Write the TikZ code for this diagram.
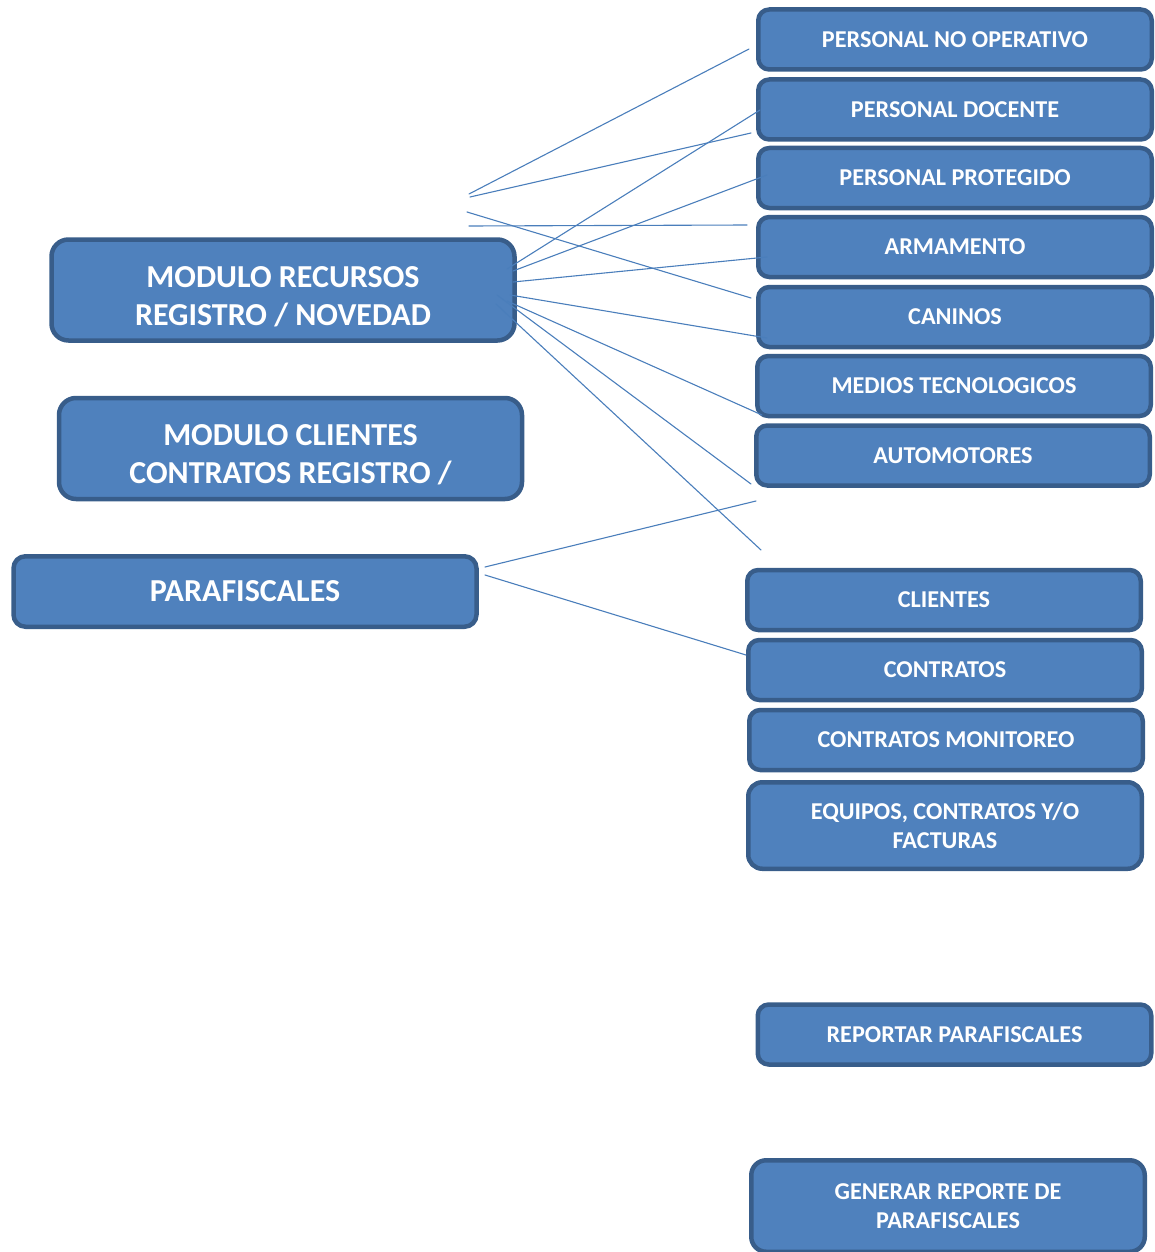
\documentclass[tikz,border=0pt]{standalone}
\usepackage{fontspec}
\setmainfont{Carlito}
\usetikzlibrary{positioning}
\definecolor{boxfill}{HTML}{4F81BD}
\definecolor{boxline}{HTML}{385D8A}
\definecolor{linkblue}{HTML}{4A7EBB}
\tikzset{
  box/.style={draw=boxline, fill=boxfill, line width=4.5pt, rounded corners=11pt,
    text=white, align=center, inner sep=0pt, minimum width=393.5pt, minimum height=60pt,
    font=\fontsize{24.2}{29}\selectfont\bfseries},
  bigbox/.style={box, rounded corners=17pt, minimum width=463pt, minimum height=101pt,
    font=\fontsize{32}{38}\selectfont\bfseries},
  bigtext/.style={text=white, align=center, inner sep=0pt, yshift=-6.5pt,
    font=\fontsize{32}{38}\selectfont\bfseries},
  link/.style={draw=linkblue, line width=1.1pt}
}
\begin{document}
\begin{tikzpicture}[x=1pt, y=-1pt, line join=round, line cap=round]
      \clip (0,0) rectangle (1155,1252);
      % left modules
      \node[bigbox, label={[bigtext]center:{MODULO RECURSOS\\REGISTRO / NOVEDAD}}] (recursos) at (283,290) {};
      \node[bigbox, label={[bigtext]center:{MODULO CLIENTES\\CONTRATOS REGISTRO /}}] (clientes) at (290.5,448.5) {};
      \node[bigbox, rounded corners=12pt, minimum height=70.5pt] (parafis) at (245,591.5) {PARAFISCALES};
      % right column
      \node[box] (pno)   at (955,39.5)  {PERSONAL NO OPERATIVO};
      \node[box] (pdoc)  at (955,109.5) {PERSONAL DOCENTE};
      \node[box] (pprot) at (955,178)   {PERSONAL PROTEGIDO};
      \node[box] (arm)   at (955,247)   {ARMAMENTO};
      \node[box] (can)   at (955,317)   {CANINOS};
      \node[box] (med)   at (954,386)   {MEDIOS TECNOLOGICOS};
      \node[box] (auto)  at (953,455.5) {AUTOMOTORES};
      \node[box] (cli)   at (944,600)   {CLIENTES};
      \node[box] (con)   at (945,670)   {CONTRATOS};
      \node[box] (cmon)  at (946,740)   {CONTRATOS MONITOREO};
      \node[box, rounded corners=14pt, minimum height=86.5pt] (equ) at (945,825.5) {EQUIPOS, CONTRATOS Y/O\\FACTURAS};
      \node[box] (rep)   at (954.5,1034.5) {REPORTAR PARAFISCALES};
      \node[box, rounded corners=15pt, minimum height=91.5pt] (gen) at (948,1206) {GENERAR REPORTE DE\\PARAFISCALES};
      % loose connector ends
      \coordinate (s1) at (469,194);  \coordinate (e1) at (749,49);
      \coordinate (s2) at (470,197);  \coordinate (e2) at (751,133);
      \coordinate (s3) at (467,212);  \coordinate (e3) at (751,298);
      \coordinate (s4) at (469,226);  \coordinate (e4) at (747,225);
      \coordinate (s5) at (507,269);  \coordinate (e5) at (760,110);
      \coordinate (s6) at (513,271);  \coordinate (e6) at (767,175);
      \coordinate (s7) at (513,282);  \coordinate (e7) at (767,257);
      \coordinate (s8) at (510,295);  \coordinate (e8) at (767,338);
      \coordinate (s9) at (507,301);  \coordinate (e9) at (762,415);
      \coordinate (s10) at (497,295); \coordinate (e10) at (751,484);
      \coordinate (s11) at (496,304); \coordinate (e11) at (761,550);
      \coordinate (s12) at (485,567); \coordinate (e12) at (756,501);
      \coordinate (s13) at (485,575); \coordinate (e13) at (746,655);
      \foreach \n in {1,...,13} {
        \draw[link] (s\n) -- (e\n);
      }
    \end{tikzpicture}
\end{document}
